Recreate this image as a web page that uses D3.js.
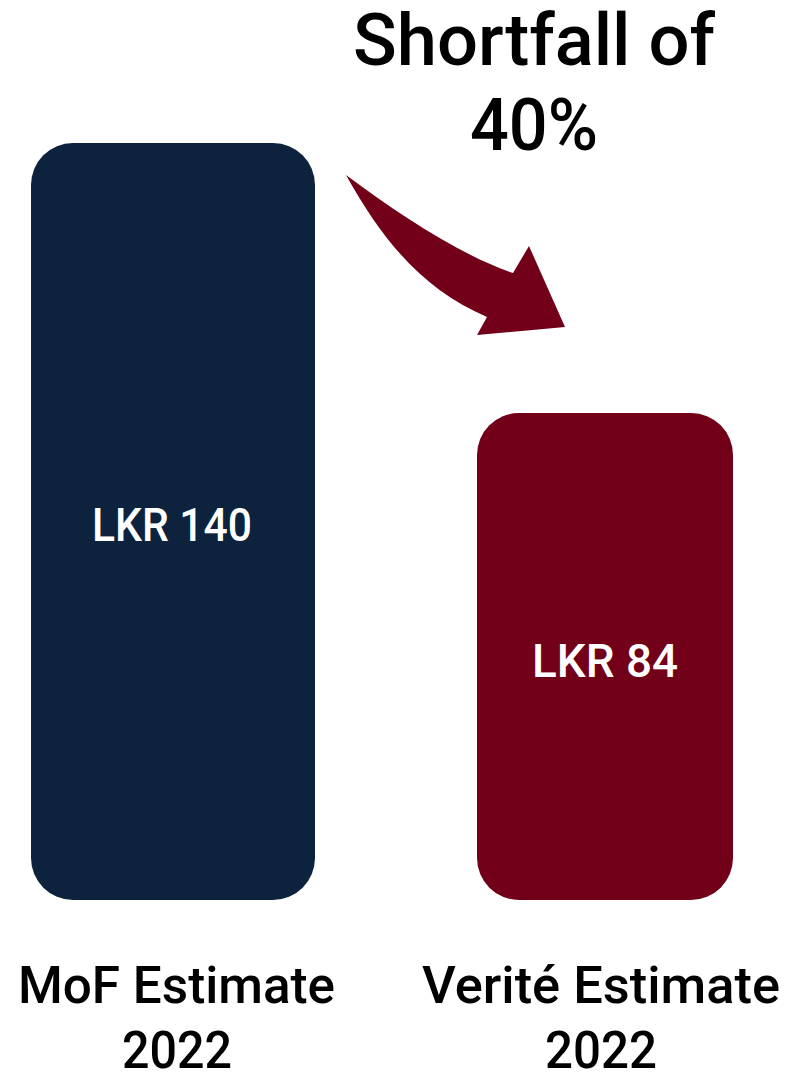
<!DOCTYPE html>
<html>
<head>
<meta charset="utf-8">
<script src="https://cdn.jsdelivr.net/npm/d3@7/dist/d3.min.js"></script>
<style>
  html, body { margin: 0; padding: 0; background: #ffffff; }
  svg { display: block; }
  text { font-family: Roboto, "Noto Sans", sans-serif; font-weight: 500; }
</style>
</head>
<body>
<svg id="chart" width="788" height="1073"></svg>
<script>
// ---- data ----
const categories = ["MoF Estimate", "Verité Estimate"];
const years = ["2022", "2022"];
const values = [140, 84];
const valueLabels = ["LKR 140", "LKR 84"];
const titleLines = ["Shortfall of", "40%"];

// ---- styles / layout ----
const barColors = ["#0c223d", "#720018"];
const barWidths = [284, 256];
const svg = d3.select("#chart");

const x = d3.scalePoint().domain(categories).range([173, 605]);
const yFloor = -17;
const y = d3.scaleLinear().domain([yFloor, 140]).range([900, 143]);

// bars
svg.append("g").selectAll("rect")
  .data(categories)
  .join("rect")
  .attr("x", (d, i) => x(d) - barWidths[i] / 2)
  .attr("width", (d, i) => barWidths[i])
  .attr("y", (d, i) => y(values[i]))
  .attr("height", (d, i) => y(yFloor) - y(values[i]))
  .attr("rx", 42).attr("ry", 42)
  .attr("fill", (d, i) => barColors[i]);

// value labels inside bars
const valLayout = [{cx: 172, base: 541, len: 160}, {cx: 605, base: 677, len: 146}];
svg.append("g").selectAll("text")
  .data(valueLabels)
  .join("text")
  .attr("x", (d, i) => valLayout[i].cx)
  .attr("y", (d, i) => valLayout[i].base)
  .attr("text-anchor", "middle")
  .attr("font-size", 46)
  .attr("fill", "#ffffff")
  .attr("textLength", (d, i) => valLayout[i].len)
  .attr("lengthAdjust", "spacingAndGlyphs")
  .text(d => d);

// category labels
const catLayout = [{cx: 176.5, len: 317}, {cx: 601, len: 358}];
const yearLayout = [{cx: 177, len: 110}, {cx: 601, len: 112}];
const gCat = svg.append("g");
gCat.selectAll("text.cat")
  .data(categories)
  .join("text")
  .attr("class", "cat")
  .attr("x", (d, i) => catLayout[i].cx)
  .attr("y", 1003)
  .attr("text-anchor", "middle")
  .attr("font-size", 52)
  .attr("fill", "#000")
  .attr("textLength", (d, i) => catLayout[i].len)
  .attr("lengthAdjust", "spacingAndGlyphs")
  .text(d => d);
gCat.selectAll("text.yr")
  .data(years)
  .join("text")
  .attr("class", "yr")
  .attr("x", (d, i) => yearLayout[i].cx)
  .attr("y", 1068)
  .attr("text-anchor", "middle")
  .attr("font-size", 52)
  .attr("fill", "#000")
  .attr("textLength", (d, i) => yearLayout[i].len)
  .attr("lengthAdjust", "spacingAndGlyphs")
  .text(d => d);

// title annotation
const titleLayout = [{cx: 534, base: 65, len: 362}, {cx: 534, base: 150, len: 128}];
svg.append("g").selectAll("text")
  .data(titleLines)
  .join("text")
  .attr("x", (d, i) => titleLayout[i].cx)
  .attr("y", (d, i) => titleLayout[i].base)
  .attr("text-anchor", "middle")
  .attr("font-size", 73)
  .attr("fill", "#000")
  .attr("textLength", (d, i) => titleLayout[i].len)
  .attr("lengthAdjust", "spacingAndGlyphs")
  .text(d => d);

// curved arrow annotation
const p = d3.path();
p.moveTo(346, 175);
p.bezierCurveTo(400, 215, 460, 255, 513, 273);
p.lineTo(529, 246);
p.lineTo(565, 327);
p.lineTo(477, 335);
p.lineTo(487, 317);
p.bezierCurveTo(425, 290, 385, 245, 346, 175);
p.closePath();
svg.append("path")
  .attr("d", p.toString())
  .attr("fill", "#720018");
</script>
</body>
</html>
